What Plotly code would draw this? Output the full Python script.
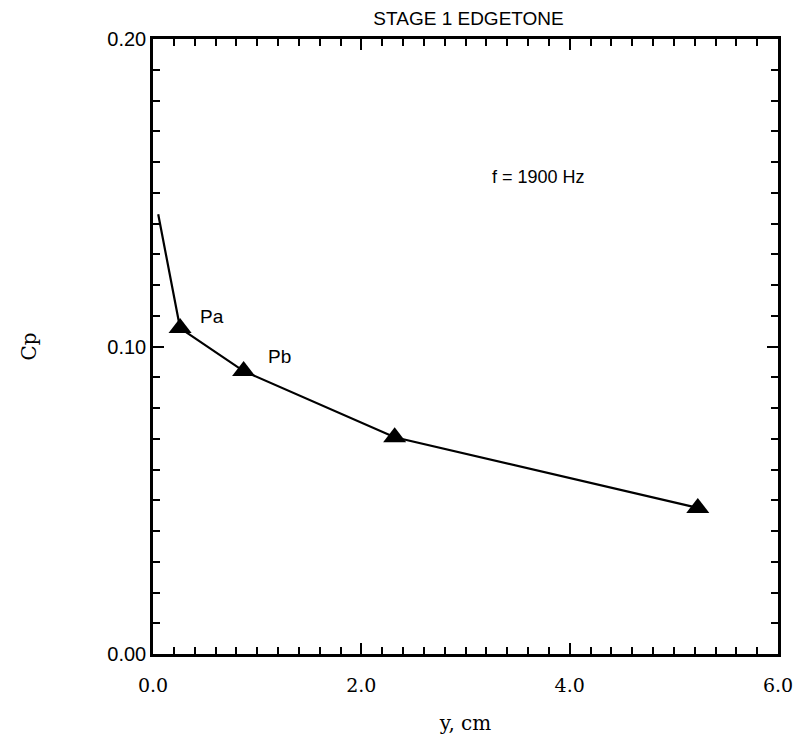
import plotly.graph_objects as go

# --- Data ---
y_cm = [0.05, 0.26, 0.87, 2.32, 5.23]
cp = [0.143, 0.106, 0.092, 0.0705, 0.0475]
marked = [False, True, True, True, True]

label_x = [0.57, 1.21]
label_y = [0.1097, 0.0967]
label_text = ["Pa", "Pb"]

fig = go.Figure()

fig.add_trace(
    go.Scatter(
        x=y_cm,
        y=cp,
        mode="lines",
        line=dict(color="black", width=2.2),
        showlegend=False,
    )
)
fig.add_trace(
    go.Scatter(
        x=[x for x, m in zip(y_cm, marked) if m],
        y=[v for v, m in zip(cp, marked) if m],
        mode="markers",
        marker=dict(symbol="triangle-up", size=20, color="black"),
        showlegend=False,
    )
)

for x, y, t in zip(label_x, label_y, label_text):
    fig.add_annotation(x=x, y=y, text=t, showarrow=False,
                       font=dict(family="Liberation Sans", size=19, color="black"))

fig.add_annotation(x=3.7, y=0.155, text="f = 1900 Hz", showarrow=False,
                   font=dict(family="Liberation Sans", size=18, color="black"))

axis_common = dict(
    showgrid=False,
    zeroline=False,
    showline=True,
    linecolor="black",
    linewidth=2.5,
    mirror="ticks",
    ticks="inside",
    tickcolor="black",
    tickwidth=2,
)

fig.update_xaxes(
    range=[0, 6],
    dtick=2,
    tickformat=".1f",
    ticklen=11,
    ticklabelstandoff=12,
    minor=dict(dtick=0.2, ticks="inside", ticklen=7, tickcolor="black", tickwidth=2),
    tickfont=dict(family="DejaVu Serif", size=19, color="black"),
    title=dict(text="y, cm", font=dict(family="DejaVu Serif", size=20, color="black"),
               standoff=22),
    **axis_common,
)
fig.update_yaxes(
    range=[0, 0.2],
    dtick=0.1,
    tickformat=".2f",
    ticklen=11,
    minor=dict(dtick=0.01, ticks="inside", ticklen=7, tickcolor="black", tickwidth=2),
    tickfont=dict(family="Liberation Sans", size=20, color="black"),
    title=dict(text="Cp", font=dict(family="DejaVu Serif", size=20, color="black"),
               standoff=66),
    **axis_common,
)

fig.update_layout(
    width=801,
    height=736,
    plot_bgcolor="white",
    paper_bgcolor="white",
    margin=dict(l=145, r=31, t=31, b=78),
    title=dict(text="STAGE 1 EDGETONE", x=0.575, xanchor="center",
               yref="container", y=1, yanchor="top", pad=dict(t=4),
               font=dict(family="Liberation Sans", size=19, color="black")),
)

fig.write_html("out.html")
